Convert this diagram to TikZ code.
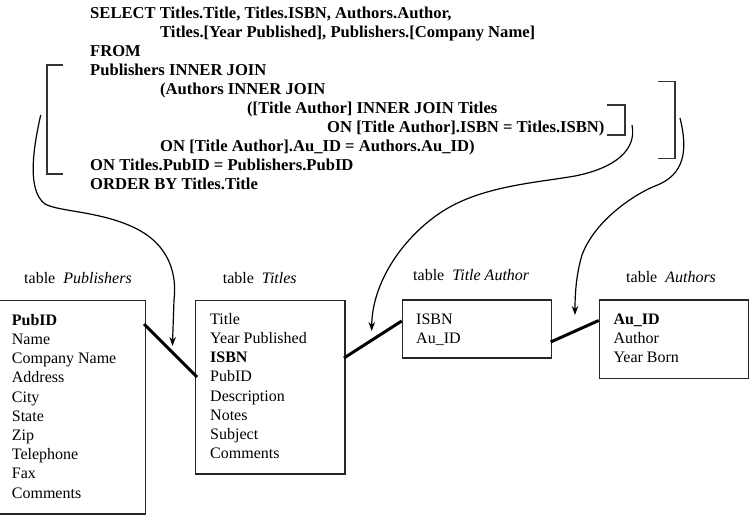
\documentclass[tikz,border=0pt]{standalone}
\usepackage{fontspec}
\setmainfont{Liberation Serif}
\usetikzlibrary{arrows.meta}
\tikzset{
  sql/.style={anchor=base west, inner sep=0pt, font=\fontsize{16.6}{19}\selectfont\bfseries},
  fld/.style={anchor=base west, inner sep=0pt, font=\fontsize{16}{19}\selectfont},
  lbl/.style={anchor=base west, inner sep=0pt, font=\fontsize{16}{19}\selectfont},
  tbl/.style={draw=black!85, line width=1.4pt, anchor=north west, inner sep=0pt},
  brk/.style={draw=black!80, line width=1.4pt},
  link/.style={line width=3pt, black},
  curve/.style={line width=1.2pt, black, -{Stealth[length=9pt,width=6.5pt]}},
}
\begin{document}
\begin{tikzpicture}[x=1pt,y=-1pt]
\clip (0,0) rectangle (753,520);
\fill[white] (0,0) rectangle (753,520);
% SQL text
\node[sql] (q1) at (90,18.3) {SELECT Titles.Title, Titles.ISBN, Authors.Author,};
\node[sql] (q2) at (160,37.4) {Titles.[Year Published], Publishers.[Company Name]};
\node[sql] (q3) at (90,56.4) {FROM};
\node[sql] (q4) at (90,75.5) {Publishers INNER JOIN};
\node[sql] (q5) at (160,94.6) {(Authors INNER JOIN};
\node[sql] (q6) at (247,113.7) {([Title Author] INNER JOIN Titles};
\node[sql] (q7) at (327,132.7) {ON [Title Author].ISBN = Titles.ISBN)};
\node[sql] (q8) at (160,151.8) {ON [Title Author].Au\_ID = Authors.Au\_ID)};
\node[sql] (q9) at (90,170.9) {ON Titles.PubID = Publishers.PubID};
\node[sql] (q10) at (90,189.9) {ORDER BY Titles.Title};
% brackets
\draw[brk] (63,65) -- (47,65) -- (47,174) -- (63,174);
\draw[brk] (607,105) -- (625,105) -- (625,135) -- (607,135);
\draw[brk] (658,81.7) -- (675,81.7) -- (675,158.5) -- (658,158.5);
% table labels
\node[lbl] (lp) at (24,283.3) {table\ \ \textit{Publishers}};
\node[lbl] (lt) at (222.7,283) {table\ \ \textit{Titles}};
\node[lbl] (lta) at (413,280.7) {table\ \ \textit{Title Author}};
\node[lbl] (la) at (626,282) {table\ \ \textit{Authors}};
% boxes
\node[tbl, minimum width=147pt, minimum height=213.3pt] (pub) at (-2,300) {};
\node[tbl, minimum width=149.3pt, minimum height=173.3pt] (tit) at (195,300) {};
\node[tbl, minimum width=149pt, minimum height=58pt] (ta) at (401.7,299.3) {};
\node[tbl, minimum width=149pt, minimum height=78.7pt] (au) at (598.7,299.3) {};
% fields
\foreach \t [count=\i from 0] in {\textbf{PubID},Name,Company Name,Address,City,State,Zip,Telephone,Fax,Comments}
  \node[fld] (pf\i) at (11.7,{325.3+19.2*\i}) {\t};
\foreach \t [count=\i from 0] in {Title,Year Published,\textbf{ISBN},PubID,Description,Notes,Subject,Comments}
  \node[fld] (tf\i) at (210,{324.3+19.2*\i}) {\t};
\foreach \t [count=\i from 0] in {ISBN,Au\_ID}
  \node[fld] (taf\i) at (416,{324.3+19.2*\i}) {\t};
\foreach \t [count=\i from 0] in {\textbf{Au\_ID},Author,Year Born}
  \node[fld] (af\i) at (613.3,{324.3+19.2*\i}) {\t};
% thick links
\coordinate (l1a) at (144,324);
\coordinate (l1b) at (197,377);
\coordinate (l2a) at (344,358);
\coordinate (l2b) at (401.7,321);
\coordinate (l3a) at (550.7,342);
\coordinate (l3b) at (598.7,320.5);
\draw[link] (l1a) -- (l1b);
\draw[link] (l2a) -- (l2b);
\draw[link] (l3a) -- (l3b);
% curved arrows
\coordinate (c1s) at (40.7,115);
\coordinate (c1e) at (172.5,346);
\coordinate (c2s) at (632,125);
\coordinate (c2e) at (371.7,331);
\coordinate (c3s) at (680,118);
\coordinate (c3e) at (575,315);
\draw[curve] (c1s) .. controls (34,145) and (26,190) .. (45,204)
  .. controls (60,212) and (100,211) .. (135,228)
  .. controls (170,245) and (177,275) .. (174,300)
  .. controls (173,320) .. (c1e);
\draw[curve] (c2s) .. controls (637,150) and (615,168) .. (575,176)
  .. controls (535,183) and (480,186) .. (440,213)
  .. controls (400,240) and (372,285) .. (c2e);
\draw[curve] (c3s) .. controls (688,150) and (685,175) .. (655,186)
  .. controls (635,194) and (595,220) .. (582,255)
  .. controls (576,275) and (575,295) .. (c3e);
\end{tikzpicture}
\end{document}
